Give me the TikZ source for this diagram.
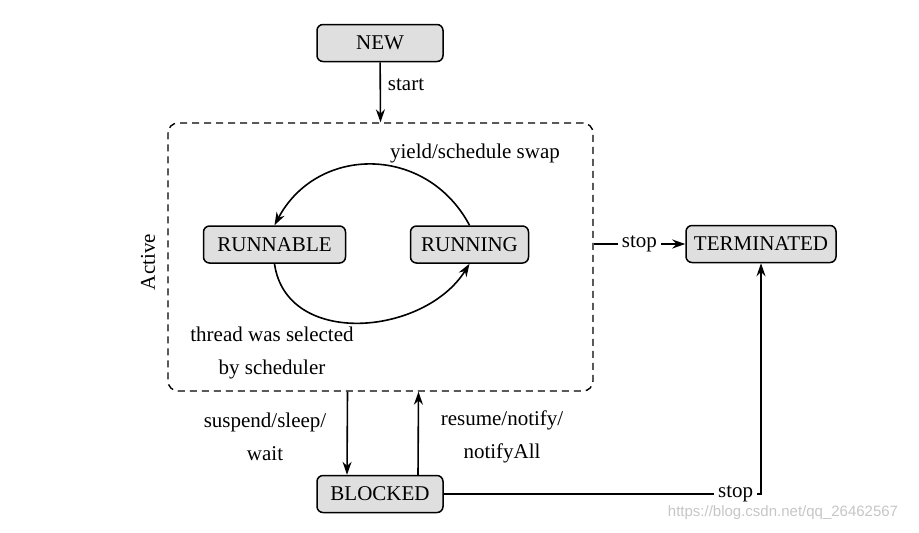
\documentclass[tikz,border=0pt]{standalone}
\usepackage{fontspec}
\setmainfont{Liberation Serif}
\newfontfamily\wmfont{Liberation Sans}
\usetikzlibrary{shapes,arrows.meta}
\tikzset{thstate/.style={rectangle, rounded corners=3pt, draw, line width=0.75pt, fill=gray!25, minimum height=18.5pt, inner sep=0pt}}
\newcommand{\thstatenode}[3] {\node at (#1) (#2) [thstate, minimum width=#3] {#2};}
\newcommand{\thtextnode}[3] {\node at (#1) (#2) [align=center] {#3};}
\newcommand{\thtransition}[2] {\draw [->] (#1) -- (#2);}

\begin{document}
\begin{tikzpicture}[x=0.5pt, y=-0.5pt, line width=0.8pt, >={Stealth[length=6.5pt, width=4.5pt]}, font=\fontsize{10.5}{16.5}\selectfont]
\useasboundingbox (0,0) rectangle (919,532);

\node at (380.5,257) (active) [draw, line width=0.7pt, dash pattern=on 3.5pt off 2.5pt, rounded corners=5pt, minimum width=212.5pt, minimum height=134pt] {};
\node at (148,262) (activelabel) [rotate=90] {Active};

\thstatenode {380,43}{NEW}{63pt};
\thstatenode {274.5,244.5}{RUNNABLE}{71pt};
\thstatenode {469.5,244.5}{RUNNING}{59pt};
\thstatenode {761,244}{TERMINATED}{75pt};
\thstatenode {380,494}{BLOCKED}{63pt};

\thtextnode {406,85}{startlabel}{start};
\thtextnode {475,153}{yieldlabel}{yield/schedule swap};
\thtextnode {272,353}{selectlabel}{thread was selected\\by scheduler};
\thtextnode {265,437}{suspendlabel}{suspend/sleep/\\wait};
\thtextnode {502,437}{resumelabel}{resume/notify/\\notifyAll};

\thtransition{NEW}{active.north};
\draw [->] (RUNNING.north) to[out=118, in=62, looseness=1.2] (RUNNABLE.north);
\draw [->] (RUNNABLE.south) to[out=-82, in=-122, looseness=1.12] (RUNNING.south);
\draw [->] (active.east |- TERMINATED) -- node [fill=white, inner xsep=2pt] {stop} (TERMINATED);
\thtransition{[xshift=-16.5pt]active.south}{[xshift=-16.5pt]BLOCKED.north};
\thtransition{[xshift=19pt]BLOCKED.north}{[xshift=19pt]active.south};
\draw [->] (BLOCKED) -| node [pos=0.5, anchor=east, xshift=-1.5pt, fill=white, inner xsep=2pt] {stop} (TERMINATED);

\node at (783,513) (watermark) [text=gray!45, font=\wmfont\fontsize{7.5}{9}\selectfont] {https://blog.csdn.net/qq\_26462567};

\end{tikzpicture}
\end{document}
